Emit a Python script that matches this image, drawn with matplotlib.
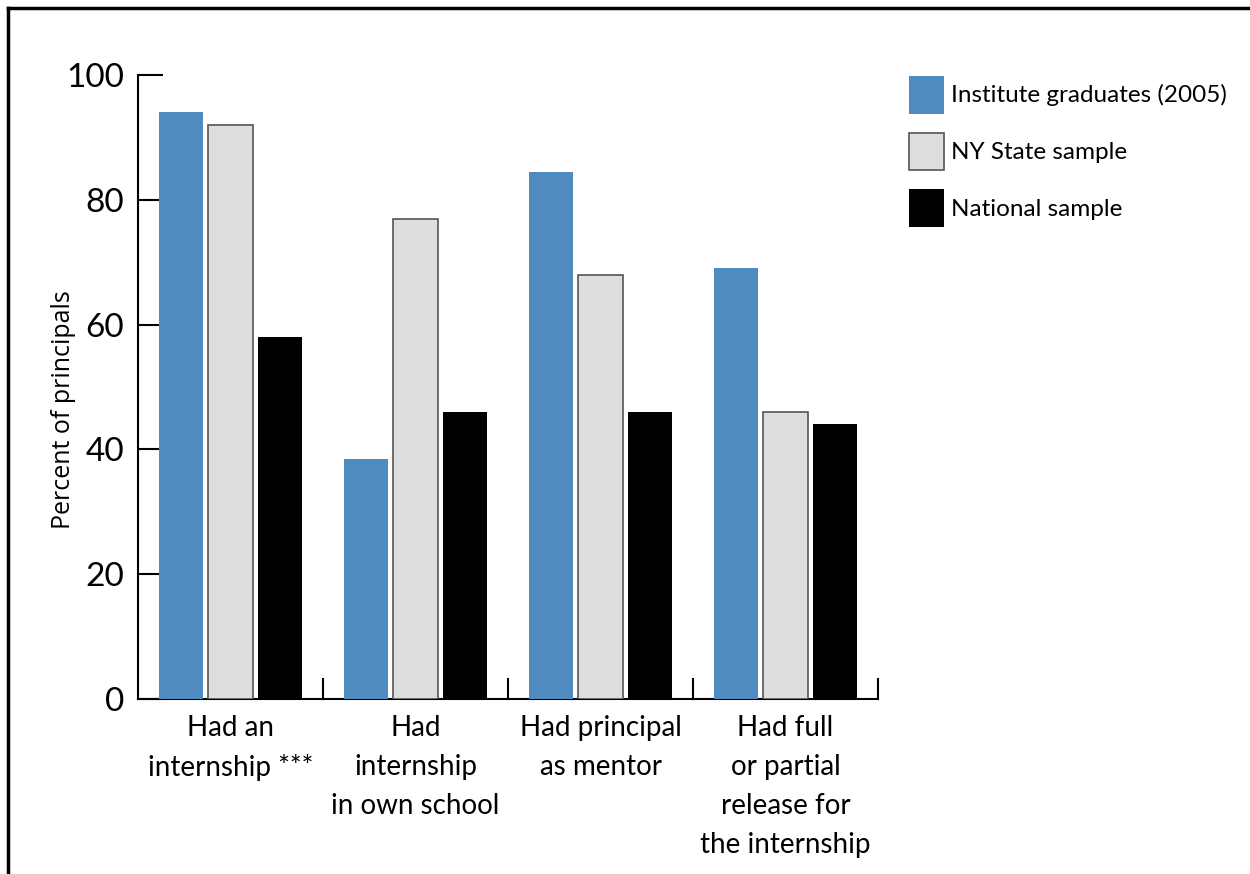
import matplotlib.pyplot as plt
import numpy as np
from matplotlib.lines import Line2D

plt.rcParams["font.family"] = ["Lato", "DejaVu Sans"]

categories = ["Had an\ninternship ***", "Had\ninternship\nin own school",
              "Had principal\nas mentor", "Had full\nor partial\nrelease for\nthe internship"]
series = ["Institute graduates (2005)", "NY State sample", "National sample"]
institute = [94, 38.5, 84.5, 69]
ny_state = [92, 77, 68, 46]
national = [58, 46, 46, 44]
yticks = [0, 20, 40, 60, 80, 100]

fig = plt.figure(figsize=(12.5, 8.74), dpi=100)
ax = fig.add_axes([138 / 1250, 1 - 699 / 874, 740 / 1250, 624 / 874])

x = np.arange(len(categories))
w = 0.243
step = 0.2676
ax.bar(x - step, institute, w, color="#4f8bbf", label=series[0], zorder=3)
ax.bar(x, ny_state, w, color="#dedede", edgecolor="#555555", linewidth=1.2,
       label=series[1], zorder=3)
ax.bar(x + step, national, w, color="black", label=series[2], zorder=3)

ax.set_xlim(-0.5, 3.5)
ax.set_ylim(0, 100)
for s in ["top", "right"]:
    ax.spines[s].set_visible(False)
ax.spines["left"].set_linewidth(1.5)
ax.spines["bottom"].set_linewidth(1.5)

ax.set_yticks(yticks)
ax.set_yticklabels([str(v) for v in yticks], fontsize=24)
ax.tick_params(axis="y", direction="in", length=18, width=1.5, pad=10)

ax.set_xticks(x + 0.5)
ax.set_xticklabels([])
ax.tick_params(axis="x", direction="in", length=15, width=1.5)
for i, c in enumerate(categories):
    ax.text(i, -2.5, c, ha="center", va="top", fontsize=20, linespacing=1.62)

ax.set_ylabel("Percent of principals", fontsize=18, family=["Open Sans", "DejaVu Sans"])
ax.yaxis.set_label_coords(-0.084, 0.463)

fig.legend(loc="upper left", bbox_to_anchor=(909 / 1250, 1 - 76 / 874),
           frameon=False, fontsize=17.5, borderpad=0, borderaxespad=0,
           handlelength=1.43, handleheight=2.0, handletextpad=0.3,
           labelspacing=0.78)

# frame around the figure (top and left only)
fig.add_artist(Line2D([8 / 1250, 1], [1 - 8 / 874, 1 - 8 / 874], color="black",
                      linewidth=2.5, transform=fig.transFigure))
fig.add_artist(Line2D([8 / 1250, 8 / 1250], [0, 1 - 8 / 874], color="black",
                      linewidth=2.5, transform=fig.transFigure))

fig.savefig("out.png", dpi=100)
